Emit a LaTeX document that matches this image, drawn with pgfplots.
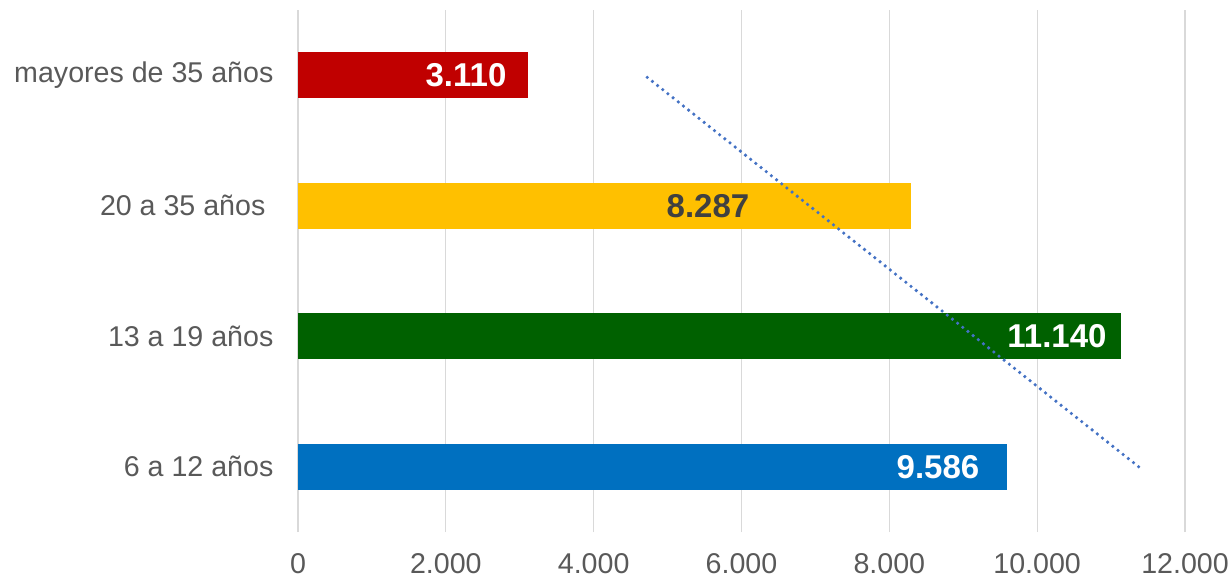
\documentclass[border=0pt]{standalone}
\usepackage{pgfplots}
\pgfplotsset{compat=1.18}
\usepackage{fontspec}
\setmainfont{Liberation Sans}
\definecolor{cRed}{HTML}{C00000}
\definecolor{cYel}{HTML}{FFC000}
\definecolor{cGrn}{HTML}{006100}
\definecolor{cBlu}{HTML}{0070C0}
\definecolor{cTrend}{HTML}{4472C4}
\definecolor{cGrid}{HTML}{D9D9D9}
\definecolor{cTxt}{HTML}{595959}
\definecolor{cDark}{HTML}{404040}
\begin{document}
\begin{tikzpicture}
\path[use as bounding box] (-149pt,-23.5pt) rectangle (466.5pt,266pt);
\begin{axis}[
  at={(0,0)}, anchor=south west,
  scale only axis,
  width=443.5pt, height=261pt,
  xbar, bar width=23pt, bar shift=0pt,
  xmin=0, xmax=12000,
  ymin=-0.5, ymax=3.5,
  xtick={0,2000,4000,6000,8000,10000,12000},
  ytick={0,1,2,3},
  yticklabels={6 a 12 años, 13 a 19 años, {20 a 35 años\kern4pt}, mayores de 35 años},
  xmajorgrids, major grid style={cGrid, line width=0.6pt},
  axis line style={draw=none},
  tick style={draw=none},
  scaled ticks=false,
  /pgf/number format/.cd, 1000 sep={.}, assume math mode=true,
  /pgfplots/.cd,
  ticklabel style={font=\fontsize{14.3}{16}\selectfont, text=cTxt},
  xticklabel style={yshift=-7pt},
  yticklabel style={xshift=-4.5pt},
  clip=false,
]
\addplot[fill=cBlu, draw=none] coordinates {(9586,0)};
\addplot[fill=cGrn, draw=none] coordinates {(11140,1)};
\addplot[fill=cYel, draw=none] coordinates {(8287,2)};
\addplot[fill=cRed, draw=none] coordinates {(3110,3)};
\addplot[sharp plot, cTrend, line width=1.8pt, line cap=round, dash pattern=on 0pt off 3.3pt, forget plot]
  coordinates {(11373,0) (4689,3)};
\node[font=\fontsize{16.5}{18}\bfseries, text=white] at (axis cs:8658,0) {9.586};
\node[font=\fontsize{16.5}{18}\bfseries, text=white] at (axis cs:10268,1) {11.140};
\node[font=\fontsize{16.5}{18}\bfseries, text=cDark] at (axis cs:5547,2) {8.287};
\node[font=\fontsize{16.5}{18}\bfseries, text=white] at (axis cs:2273,3) {3.110};
\end{axis}
\end{tikzpicture}
\end{document}
